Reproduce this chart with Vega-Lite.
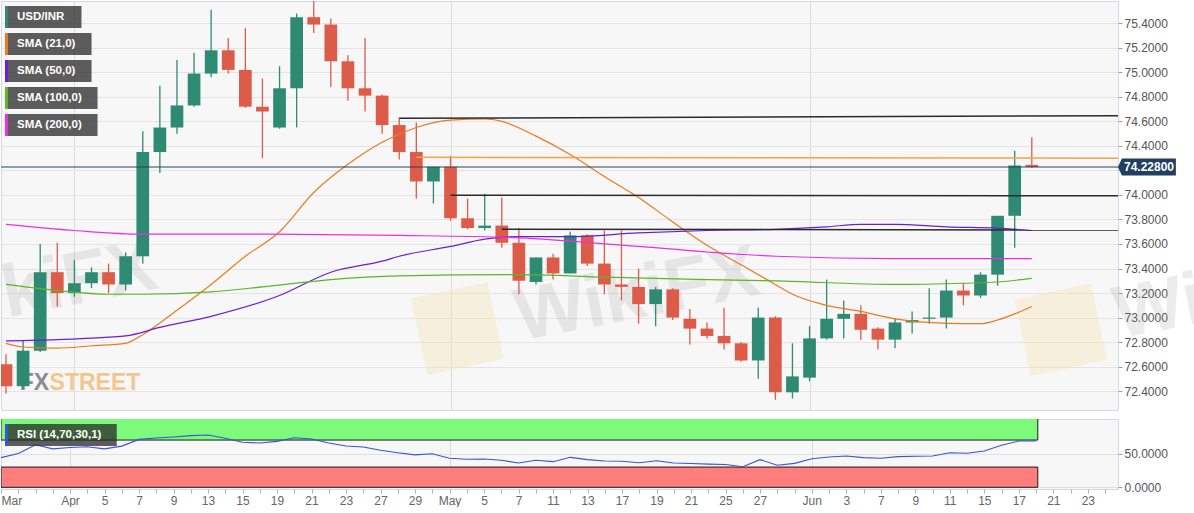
{
  "$schema": "https://vega.github.io/schema/vega-lite/v6.json",
  "padding": 0,
  "background": "white",
  "bounds": "flush",
  "spacing": 9,
  "config": {
    "view": {"fill": "#f7f7f7", "stroke": "#d4d9e1"},
    "axis": {"labelFont": "Liberation Sans"},
    "legend": {"labelFont": "Liberation Sans"},
    "text": {"font": "Liberation Sans"}
  },
  "resolve": {"scale": {"color": "independent", "stroke": "independent"}},
  "datasets": {
    "candles": [
      {"i": 0, "date": "2021-03-26", "open": 72.62, "high": 72.70, "low": 72.38, "close": 72.44, "rsi": 44},
      {"i": 1, "date": "2021-03-29", "open": 72.44, "high": 72.81, "low": 72.42, "close": 72.73, "rsi": 50},
      {"i": 2, "date": "2021-03-30", "open": 72.73, "high": 73.60, "low": 72.72, "close": 73.37, "rsi": 63},
      {"i": 3, "date": "2021-03-31", "open": 73.37, "high": 73.61, "low": 73.09, "close": 73.20, "rsi": 57},
      {"i": 4, "date": "2021-04-01", "open": 73.20, "high": 73.47, "low": 73.17, "close": 73.28, "rsi": 59},
      {"i": 5, "date": "2021-04-02", "open": 73.28, "high": 73.41, "low": 73.24, "close": 73.37, "rsi": 60},
      {"i": 6, "date": "2021-04-05", "open": 73.37, "high": 73.44, "low": 73.20, "close": 73.27, "rsi": 57},
      {"i": 7, "date": "2021-04-06", "open": 73.27, "high": 73.53, "low": 73.22, "close": 73.50, "rsi": 61},
      {"i": 8, "date": "2021-04-07", "open": 73.50, "high": 74.52, "low": 73.44, "close": 74.35, "rsi": 71},
      {"i": 9, "date": "2021-04-08", "open": 74.35, "high": 74.89, "low": 74.18, "close": 74.55, "rsi": 73},
      {"i": 10, "date": "2021-04-09", "open": 74.55, "high": 75.10, "low": 74.50, "close": 74.73, "rsi": 74.5},
      {"i": 11, "date": "2021-04-12", "open": 74.73, "high": 75.16, "low": 74.72, "close": 74.99, "rsi": 76.5},
      {"i": 12, "date": "2021-04-13", "open": 74.99, "high": 75.51, "low": 74.96, "close": 75.18, "rsi": 77.5},
      {"i": 13, "date": "2021-04-14", "open": 75.18, "high": 75.28, "low": 74.99, "close": 75.02, "rsi": 72.6},
      {"i": 14, "date": "2021-04-15", "open": 75.02, "high": 75.36, "low": 74.71, "close": 74.72, "rsi": 66.7},
      {"i": 15, "date": "2021-04-16", "open": 74.72, "high": 74.95, "low": 74.30, "close": 74.68, "rsi": 65.6},
      {"i": 16, "date": "2021-04-19", "open": 74.55, "high": 75.05, "low": 74.54, "close": 74.87, "rsi": 68},
      {"i": 17, "date": "2021-04-20", "open": 74.87, "high": 75.48, "low": 74.55, "close": 75.45, "rsi": 73.5},
      {"i": 18, "date": "2021-04-21", "open": 75.45, "high": 75.62, "low": 75.32, "close": 75.39, "rsi": 71.6},
      {"i": 19, "date": "2021-04-22", "open": 75.39, "high": 75.44, "low": 74.88, "close": 75.09, "rsi": 65.6},
      {"i": 20, "date": "2021-04-23", "open": 75.09, "high": 75.14, "low": 74.77, "close": 74.87, "rsi": 61.2},
      {"i": 21, "date": "2021-04-26", "open": 74.87, "high": 75.28, "low": 74.68, "close": 74.81, "rsi": 59.7},
      {"i": 22, "date": "2021-04-27", "open": 74.81, "high": 74.82, "low": 74.50, "close": 74.57, "rsi": 54.8},
      {"i": 23, "date": "2021-04-28", "open": 74.57, "high": 74.63, "low": 74.29, "close": 74.35, "rsi": 51.3},
      {"i": 24, "date": "2021-04-29", "open": 74.35, "high": 74.59, "low": 73.97, "close": 74.11, "rsi": 48},
      {"i": 25, "date": "2021-04-30", "open": 74.11, "high": 74.23, "low": 73.93, "close": 74.23, "rsi": 49.8},
      {"i": 26, "date": "2021-05-03", "open": 74.23, "high": 74.32, "low": 73.79, "close": 73.81, "rsi": 43},
      {"i": 27, "date": "2021-05-04", "open": 73.81, "high": 73.97, "low": 73.72, "close": 73.73, "rsi": 41.5},
      {"i": 28, "date": "2021-05-05", "open": 73.73, "high": 74.01, "low": 73.71, "close": 73.75, "rsi": 42},
      {"i": 29, "date": "2021-05-06", "open": 73.75, "high": 73.98, "low": 73.57, "close": 73.61, "rsi": 40},
      {"i": 30, "date": "2021-05-07", "open": 73.61, "high": 73.73, "low": 73.19, "close": 73.30, "rsi": 36},
      {"i": 31, "date": "2021-05-10", "open": 73.29, "high": 73.49, "low": 73.27, "close": 73.49, "rsi": 40},
      {"i": 32, "date": "2021-05-11", "open": 73.49, "high": 73.52, "low": 73.31, "close": 73.36, "rsi": 38},
      {"i": 33, "date": "2021-05-12", "open": 73.36, "high": 73.70, "low": 73.36, "close": 73.67, "rsi": 44.4},
      {"i": 34, "date": "2021-05-13", "open": 73.67, "high": 73.68, "low": 73.42, "close": 73.44, "rsi": 41},
      {"i": 35, "date": "2021-05-14", "open": 73.44, "high": 73.71, "low": 73.19, "close": 73.27, "rsi": 39},
      {"i": 36, "date": "2021-05-17", "open": 73.27, "high": 73.71, "low": 73.14, "close": 73.25, "rsi": 38.5},
      {"i": 37, "date": "2021-05-18", "open": 73.25, "high": 73.40, "low": 72.95, "close": 73.11, "rsi": 36.5},
      {"i": 38, "date": "2021-05-19", "open": 73.11, "high": 73.25, "low": 72.93, "close": 73.23, "rsi": 39.4},
      {"i": 39, "date": "2021-05-20", "open": 73.23, "high": 73.24, "low": 72.98, "close": 73.00, "rsi": 36},
      {"i": 40, "date": "2021-05-21", "open": 72.99, "high": 73.07, "low": 72.78, "close": 72.91, "rsi": 35.3},
      {"i": 41, "date": "2021-05-24", "open": 72.91, "high": 72.96, "low": 72.83, "close": 72.85, "rsi": 34.3},
      {"i": 42, "date": "2021-05-25", "open": 72.85, "high": 73.08, "low": 72.74, "close": 72.79, "rsi": 33.8},
      {"i": 43, "date": "2021-05-26", "open": 72.79, "high": 72.80, "low": 72.64, "close": 72.65, "rsi": 30.5},
      {"i": 44, "date": "2021-05-27", "open": 72.65, "high": 73.08, "low": 72.50, "close": 73.00, "rsi": 41},
      {"i": 45, "date": "2021-05-28", "open": 73.00, "high": 73.01, "low": 72.33, "close": 72.39, "rsi": 32.6},
      {"i": 46, "date": "2021-05-31", "open": 72.39, "high": 72.79, "low": 72.34, "close": 72.52, "rsi": 35.5},
      {"i": 47, "date": "2021-06-01", "open": 72.51, "high": 72.93, "low": 72.48, "close": 72.83, "rsi": 42.4},
      {"i": 48, "date": "2021-06-02", "open": 72.83, "high": 73.31, "low": 72.82, "close": 72.99, "rsi": 45},
      {"i": 49, "date": "2021-06-03", "open": 72.99, "high": 73.14, "low": 72.83, "close": 73.03, "rsi": 46.4},
      {"i": 50, "date": "2021-06-04", "open": 73.03, "high": 73.10, "low": 72.82, "close": 72.90, "rsi": 44},
      {"i": 51, "date": "2021-06-07", "open": 72.91, "high": 72.92, "low": 72.74, "close": 72.82, "rsi": 43},
      {"i": 52, "date": "2021-06-08", "open": 72.82, "high": 72.99, "low": 72.75, "close": 72.96, "rsi": 45.4},
      {"i": 53, "date": "2021-06-09", "open": 72.96, "high": 73.05, "low": 72.87, "close": 72.98, "rsi": 46},
      {"i": 54, "date": "2021-06-10", "open": 72.99, "high": 73.24, "low": 72.95, "close": 73.00, "rsi": 46.4},
      {"i": 55, "date": "2021-06-11", "open": 73.00, "high": 73.31, "low": 72.91, "close": 73.22, "rsi": 51.3},
      {"i": 56, "date": "2021-06-14", "open": 73.22, "high": 73.28, "low": 73.10, "close": 73.18, "rsi": 50.4},
      {"i": 57, "date": "2021-06-15", "open": 73.18, "high": 73.37, "low": 73.16, "close": 73.35, "rsi": 53.8},
      {"i": 58, "date": "2021-06-16", "open": 73.35, "high": 73.83, "low": 73.26, "close": 73.83, "rsi": 62.2},
      {"i": 59, "date": "2021-06-17", "open": 73.83, "high": 74.36, "low": 73.57, "close": 74.24, "rsi": 68.6},
      {"i": 60, "date": "2021-06-18", "open": 74.245, "high": 74.47, "low": 74.22, "close": 74.228, "rsi": 68.6}
    ],
    "sma": [
      {"series": "SMA (21,0)", "i": 0, "v": 72.79}, {"series": "SMA (21,0)", "i": 1, "v": 72.76}, {"series": "SMA (21,0)", "i": 3, "v": 72.75},
      {"series": "SMA (21,0)", "i": 5, "v": 72.77}, {"series": "SMA (21,0)", "i": 7, "v": 72.79}, {"series": "SMA (21,0)", "i": 8, "v": 72.86},
      {"series": "SMA (21,0)", "i": 10, "v": 73.06}, {"series": "SMA (21,0)", "i": 12, "v": 73.27}, {"series": "SMA (21,0)", "i": 14, "v": 73.50},
      {"series": "SMA (21,0)", "i": 16, "v": 73.70}, {"series": "SMA (21,0)", "i": 18, "v": 74.02}, {"series": "SMA (21,0)", "i": 20, "v": 74.25},
      {"series": "SMA (21,0)", "i": 22, "v": 74.43}, {"series": "SMA (21,0)", "i": 24, "v": 74.55}, {"series": "SMA (21,0)", "i": 26, "v": 74.61},
      {"series": "SMA (21,0)", "i": 28, "v": 74.62}, {"series": "SMA (21,0)", "i": 29, "v": 74.60}, {"series": "SMA (21,0)", "i": 31, "v": 74.48},
      {"series": "SMA (21,0)", "i": 33, "v": 74.33}, {"series": "SMA (21,0)", "i": 35, "v": 74.15}, {"series": "SMA (21,0)", "i": 37, "v": 73.98},
      {"series": "SMA (21,0)", "i": 39, "v": 73.78}, {"series": "SMA (21,0)", "i": 41, "v": 73.59}, {"series": "SMA (21,0)", "i": 43, "v": 73.43},
      {"series": "SMA (21,0)", "i": 45, "v": 73.27}, {"series": "SMA (21,0)", "i": 46, "v": 73.19}, {"series": "SMA (21,0)", "i": 48, "v": 73.10},
      {"series": "SMA (21,0)", "i": 50, "v": 73.05}, {"series": "SMA (21,0)", "i": 52, "v": 72.99}, {"series": "SMA (21,0)", "i": 54, "v": 72.96},
      {"series": "SMA (21,0)", "i": 56, "v": 72.95}, {"series": "SMA (21,0)", "i": 57, "v": 72.95}, {"series": "SMA (21,0)", "i": 58, "v": 72.98},
      {"series": "SMA (21,0)", "i": 59, "v": 73.03}, {"series": "SMA (21,0)", "i": 60, "v": 73.09},
      {"series": "SMA (50,0)", "i": 0, "v": 72.81}, {"series": "SMA (50,0)", "i": 3, "v": 72.82}, {"series": "SMA (50,0)", "i": 6, "v": 72.84},
      {"series": "SMA (50,0)", "i": 7, "v": 72.85}, {"series": "SMA (50,0)", "i": 9, "v": 72.92}, {"series": "SMA (50,0)", "i": 12, "v": 73.01},
      {"series": "SMA (50,0)", "i": 16, "v": 73.18}, {"series": "SMA (50,0)", "i": 19, "v": 73.37}, {"series": "SMA (50,0)", "i": 22, "v": 73.46},
      {"series": "SMA (50,0)", "i": 23, "v": 73.50}, {"series": "SMA (50,0)", "i": 26, "v": 73.58}, {"series": "SMA (50,0)", "i": 28, "v": 73.64},
      {"series": "SMA (50,0)", "i": 30, "v": 73.66}, {"series": "SMA (50,0)", "i": 33, "v": 73.66}, {"series": "SMA (50,0)", "i": 37, "v": 73.69},
      {"series": "SMA (50,0)", "i": 41, "v": 73.71}, {"series": "SMA (50,0)", "i": 45, "v": 73.72}, {"series": "SMA (50,0)", "i": 48, "v": 73.74},
      {"series": "SMA (50,0)", "i": 50, "v": 73.76}, {"series": "SMA (50,0)", "i": 52, "v": 73.76}, {"series": "SMA (50,0)", "i": 55, "v": 73.74},
      {"series": "SMA (50,0)", "i": 58, "v": 73.73}, {"series": "SMA (50,0)", "i": 60, "v": 73.71},
      {"series": "SMA (100,0)", "i": 0, "v": 73.27}, {"series": "SMA (100,0)", "i": 3, "v": 73.22}, {"series": "SMA (100,0)", "i": 6, "v": 73.19},
      {"series": "SMA (100,0)", "i": 8, "v": 73.19}, {"series": "SMA (100,0)", "i": 12, "v": 73.21}, {"series": "SMA (100,0)", "i": 15, "v": 73.25},
      {"series": "SMA (100,0)", "i": 19, "v": 73.31}, {"series": "SMA (100,0)", "i": 23, "v": 73.34}, {"series": "SMA (100,0)", "i": 30, "v": 73.35},
      {"series": "SMA (100,0)", "i": 35, "v": 73.33}, {"series": "SMA (100,0)", "i": 41, "v": 73.31}, {"series": "SMA (100,0)", "i": 45, "v": 73.30},
      {"series": "SMA (100,0)", "i": 52, "v": 73.27}, {"series": "SMA (100,0)", "i": 56, "v": 73.28}, {"series": "SMA (100,0)", "i": 58, "v": 73.29},
      {"series": "SMA (100,0)", "i": 60, "v": 73.32},
      {"series": "SMA (200,0)", "i": 0, "v": 73.76}, {"series": "SMA (200,0)", "i": 4, "v": 73.71}, {"series": "SMA (200,0)", "i": 8, "v": 73.68},
      {"series": "SMA (200,0)", "i": 15, "v": 73.68}, {"series": "SMA (200,0)", "i": 23, "v": 73.67}, {"series": "SMA (200,0)", "i": 30, "v": 73.65},
      {"series": "SMA (200,0)", "i": 37, "v": 73.58}, {"series": "SMA (200,0)", "i": 45, "v": 73.50}, {"series": "SMA (200,0)", "i": 52, "v": 73.48},
      {"series": "SMA (200,0)", "i": 60, "v": 73.48}
    ],
    "levels": [
      {"kind": "dark", "from": 23, "p1": 74.625, "p2": 74.646},
      {"kind": "orange", "from": 24, "p1": 74.307, "p2": 74.300},
      {"kind": "dark", "from": 26, "p1": 73.998, "p2": 73.993},
      {"kind": "dark", "from": 29, "p1": 73.720, "p2": 73.714}
    ]
  },
  "vconcat": [
    {
      "width": 1117,
      "height": 409,
      "encoding": {
        "x": {"type": "quantitative", "scale": {"domain": [0, 64.75], "nice": false, "zero": false},
          "axis": {"values": [4, 26, 47], "labels": false, "ticks": false, "grid": true, "gridColor": "#dcdcdc", "domain": false, "title": null}},
        "y": {"type": "quantitative", "scale": {"domain": [72.246, 75.582], "nice": false, "zero": false},
          "axis": {"orient": "right", "values": [72.4, 72.6, 72.8, 73, 73.2, 73.4, 73.6, 73.8, 74, 74.2, 74.4, 74.6, 74.8, 75, 75.2, 75.4],
            "labelExpr": "datum.value == 74.2 ? '' : format(datum.value, '.4f')", "labelOverlap": false, "grid": true, "gridColor": "#e4e4e4",
            "tickSize": 4, "tickColor": "#a0a0a0", "labelPadding": 2, "labelColor": "#555555", "labelFontSize": 12, "domain": false, "title": null}}
      },
      "layer": [
        {
          "data": {"values": [{"t": "logo"}]},
          "mark": {"type": "point", "shape": "square", "filled": true, "size": 6084, "angle": -12, "color": "#f1e4b8", "opacity": 0.45, "clip": true},
          "encoding": {"x": {"datum": 26.4}, "y": {"datum": 72.91}}
        },
        {
          "data": {"values": [{"t": "logo"}]},
          "mark": {"type": "point", "shape": "square", "filled": true, "size": 6084, "angle": -12, "color": "#f1e4b8", "opacity": 0.45, "clip": true},
          "encoding": {"x": {"datum": 61.7}, "y": {"datum": 72.9}}
        },
        {
          "data": {"values": [{"t": "WikiFX"}]},
          "mark": {"type": "text", "align": "left", "baseline": "alphabetic", "angle": -11, "fontSize": 74, "fontWeight": "bold", "color": "#8c8c8c", "opacity": 0.16, "clip": true},
          "encoding": {"x": {"datum": 30.1}, "y": {"datum": 72.81}, "text": {"field": "t"}}
        },
        {
          "data": {"values": [{"t": "WikiFX"}]},
          "mark": {"type": "text", "align": "left", "baseline": "alphabetic", "angle": -11, "fontSize": 74, "fontWeight": "bold", "color": "#8c8c8c", "opacity": 0.16, "clip": true},
          "encoding": {"x": {"datum": -5.1}, "y": {"datum": 72.86}, "text": {"field": "t"}}
        },
        {
          "data": {"values": [{"t": "WikiFX"}]},
          "mark": {"type": "text", "align": "left", "baseline": "alphabetic", "angle": -11, "fontSize": 74, "fontWeight": "bold", "color": "#8c8c8c", "opacity": 0.16, "clip": false},
          "encoding": {"x": {"datum": 65.1}, "y": {"datum": 72.83}, "text": {"field": "t"}}
        },
        {
          "data": {"values": [{"t": "FX"}]},
          "mark": {"type": "text", "align": "left", "baseline": "alphabetic", "fontSize": 23, "fontWeight": "bold", "color": "#8d8d8d", "clip": true},
          "encoding": {"x": {"datum": 0.8}, "y": {"datum": 72.41}, "text": {"field": "t"}}
        },
        {
          "data": {"values": [{"t": "STREET"}]},
          "mark": {"type": "text", "align": "left", "baseline": "alphabetic", "fontSize": 23, "fontWeight": "bold", "color": "#f2c78e", "clip": true},
          "encoding": {"x": {"datum": 2.55}, "y": {"datum": 72.41}, "text": {"field": "t"}}
        },
        {
          "data": {"name": "candles"},
          "mark": {"type": "rule", "strokeWidth": 1.3, "clip": true},
          "encoding": {
            "x": {"field": "i"},
            "y": {"field": "low"},
            "y2": {"field": "high"},
            "color": {"condition": {"test": "datum.close >= datum.open", "value": "#2f8a73"}, "value": "#dc5b49"}
          }
        },
        {
          "data": {"name": "candles"},
          "mark": {"type": "bar", "width": 12.7, "clip": true},
          "encoding": {
            "x": {"field": "i"},
            "y": {"field": "open"},
            "y2": {"field": "close"},
            "color": {"condition": {"test": "datum.close >= datum.open", "value": "#2f8a73"}, "value": "#dc5b49"}
          }
        },
        {
          "data": {"name": "sma"},
          "mark": {"type": "line", "strokeWidth": 1.2, "interpolate": "monotone", "clip": true},
          "encoding": {
            "x": {"field": "i"},
            "y": {"field": "v"},
            "color": {
              "field": "series", "type": "nominal",
              "scale": {"domain": ["USD/INR", "SMA (21,0)", "SMA (50,0)", "SMA (100,0)", "SMA (200,0)"], "range": ["#2f8a73", "#ec7a1e", "#6a1fd6", "#5cb52a", "#ea2fea"]},
              "legend": {
                "orient": "top-left", "offset": 4, "padding": 0, "title": null,
                "symbolType": "M-1,-1.05L-1,1.05L7.4,1.05L7.4,-1.05Z", "symbolSize": 441,
                "symbolFillColor": "rgba(40,40,40,0.75)", "symbolStrokeWidth": 3, "symbolDash": [22, 600], "symbolOpacity": 1,
                "labelColor": "#ffffff", "labelFontWeight": "bold", "labelFontSize": 11.5, "labelOffset": -12,
                "labelExpr": "datum.label + '\u2800\u2800'",
                "clipHeight": 24, "rowPadding": 3,
                "encode": {"symbols": {"update": {"shape": {"signal": "datum.value == 'USD/INR' ? 'M-1,-1.05L-1,1.05L6.14,1.05L6.14,-1.05Z' : (datum.value == 'SMA (21,0)' || datum.value == 'SMA (50,0)') ? 'M-1,-1.05L-1,1.05L7.1,1.05L7.1,-1.05Z' : 'M-1,-1.05L-1,1.05L7.67,1.05L7.67,-1.05Z'"}}}}
              }
            }
          }
        },
        {
          "data": {"name": "levels"},
          "mark": {"type": "rule", "strokeWidth": 1.5},
          "encoding": {
            "x": {"field": "from"},
            "x2": {"value": "width"},
            "y": {"field": "p1"},
            "y2": {"field": "p2"},
            "color": {"condition": {"test": "datum.kind == 'orange'", "value": "#f4a444"}, "value": "#2b2b2b"}
          }
        },
        {
          "data": {"name": "candles"},
          "transform": [
            {"joinaggregate": [{"op": "max", "field": "i", "as": "last"}]},
            {"filter": "datum.i == datum.last"}
          ],
          "layer": [
            {
              "mark": {"type": "rule", "strokeWidth": 1, "color": "#29425f"},
              "encoding": {"x": {"value": 0}, "x2": {"value": "width"}, "y": {"field": "close"}}
            },
            {
              "mark": {"type": "point", "shape": "M0,0L0.13,-0.283L1.93,-0.283L1.93,0.283L0.13,0.283Z", "filled": true, "size": 3600, "color": "#223f62", "opacity": 1, "clip": false},
              "encoding": {"x": {"value": "width"}, "y": {"field": "close"}}
            },
            {
              "mark": {"type": "text", "dx": 31, "align": "center", "baseline": "middle", "color": "#ffffff", "fontWeight": "bold", "fontSize": 12},
              "encoding": {
                "x": {"value": "width"},
                "y": {"field": "close"},
                "text": {"field": "close", "type": "quantitative", "format": ".5f"}
              }
            }
          ]
        }
      ]
    },
    {
      "width": 1117,
      "height": 70,
      "encoding": {
        "x": {"type": "quantitative", "scale": {"domain": [0, 64.75], "nice": false, "zero": false},
          "axis": {
            "values": [0, 1, 2, 3, 4, 5, 6, 7, 8, 9, 10, 11, 12, 13, 14, 15, 16, 17, 18, 19, 20, 21, 22, 23, 24, 25, 26, 27, 28, 29, 30, 31, 32, 33, 34, 35, 36, 37, 38, 39, 40, 41, 42, 43, 44, 45, 46, 47, 48, 49, 50, 51, 52, 53, 54, 55, 56, 57, 58, 59, 60, 61, 62, 63, 64],
            "labelExpr": "({'0':'Mar','4':'Apr','6':'5','8':'7','10':'9','12':'13','14':'15','16':'19','18':'21','20':'23','22':'27','24':'29','26':'May','28':'5','30':'7','32':'11','34':'13','36':'17','38':'19','40':'21','42':'25','44':'27','47':'Jun','49':'3','51':'7','53':'9','55':'11','57':'15','59':'17','61':'21','63':'23'})[datum.value] || ''",
            "labelOverlap": false, "labelFlush": true, "labelFlushOffset": 0,
            "tickSize": 4, "tickColor": "#b0b0b0", "labelColor": "#666666", "labelFontSize": 12, "labelPadding": 2,
            "grid": true, "gridColor": "#dcdcdc",
            "gridOpacity": {"condition": {"test": "datum.value === 4 || datum.value === 26 || datum.value === 47", "value": 1}, "value": 0},
            "domain": false, "title": null
          }},
        "y": {"type": "quantitative", "scale": {"domain": [-2.5, 101.2], "nice": false, "zero": false},
          "axis": {"orient": "right", "values": [0, 50], "format": ".4f", "grid": true, "gridColor": "#e0e0e0", "tickSize": 4, "tickColor": "#a0a0a0",
            "labelPadding": 2, "labelColor": "#555555", "labelFontSize": 12, "domain": false, "title": null}}
      },
      "layer": [
        {
          "data": {"values": [{"zone": "overbought", "lo": 70, "hi": 105}, {"zone": "oversold", "lo": 0, "hi": 30}]},
          "mark": {"type": "rect", "stroke": "#1a1a1a", "strokeWidth": 1, "clip": true},
          "encoding": {
            "x": {"datum": 0},
            "x2": {"datum": 60.1},
            "y": {"field": "lo"},
            "y2": {"field": "hi"},
            "fill": {"condition": {"test": "datum.zone == 'overbought'", "value": "#7cfa7c"}, "value": "#ff7d7d"}
          }
        },
        {
          "data": {"name": "candles"},
          "mark": {"type": "line", "strokeWidth": 1.1, "clip": true},
          "encoding": {
            "x": {"field": "i"},
            "y": {"field": "rsi"},
            "stroke": {
              "datum": "RSI (14,70,30,1)", "type": "nominal",
              "scale": {"range": ["#3d52d5"]},
              "legend": {
                "orient": "top-left", "offset": 4, "padding": 0, "title": null,
                "symbolType": "M-1,-1.05L-1,1.05L9.5,1.05L9.5,-1.05Z", "symbolSize": 441,
                "symbolFillColor": "rgba(40,40,40,0.75)", "symbolStrokeWidth": 3, "symbolDash": [22, 600], "symbolOpacity": 1,
                "labelColor": "#ffffff", "labelFontWeight": "bold", "labelFontSize": 11.5, "labelOffset": -12, "clipHeight": 24,
                "labelExpr": "datum.label + '\u2800\u2800\u2800'",
                "encode": {"symbols": {"update": {"stroke": {"value": "#1fdc1f"}}}}
              }
            }
          }
        }
      ]
    }
  ]
}
